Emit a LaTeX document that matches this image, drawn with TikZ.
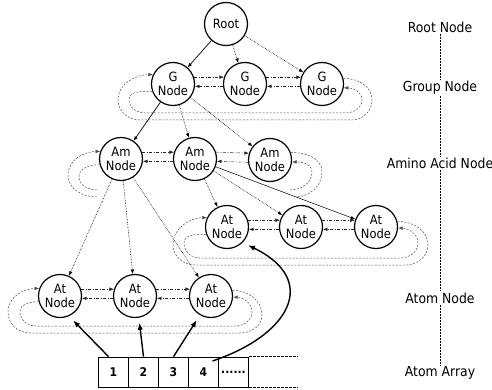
\documentclass[tikz,border=0pt]{standalone}
\usepackage{fontspec}
\setmainfont{DejaVu Sans}[FakeStretch=0.9]
\usetikzlibrary{arrows.meta}
\begin{document}
\begin{tikzpicture}[x=1pt,y=-1pt,
  nd/.style={circle,draw,line width=1.2pt,minimum size=43pt,inner sep=0pt,align=center,font=\fontsize{12.8}{13.5}\selectfont},
  tip/.style={-{Latex[length=4.5pt,width=3.5pt]}},
  tree/.style={tip,line width=0.6pt,densely dotted},
  treesolid/.style={tip,line width=0.7pt},
  sib/.style={tip,line width=0.45pt,black!85,dash pattern=on 3pt off 1.5pt on 1pt off 1.5pt},
  loopl/.style={line width=0.5pt,black!70,dash pattern=on 2pt off 1.5pt},
  arr/.style={-{Latex[length=7pt,width=5.5pt]},line width=1.4pt},
  cell/.style={draw,line width=0.8pt,minimum width=30pt,minimum height=30pt,inner sep=0pt,font=\bfseries\fontsize{12}{12}\selectfont},
  lab/.style={font=\fontsize{13.8}{14}\selectfont,inner sep=1pt},
  vline/.style={line width=0.9pt,dash pattern=on 2pt off 1pt}
]
\useasboundingbox (0,0) rectangle (492,390);

% nodes
\node[nd] (root) at (226,24) {Root};
\node[nd] (g1) at (173,84) {G\\Node};
\node[nd] (g2) at (245,84) {G\\Node};
\node[nd] (g3) at (322,84) {G\\Node};
\node[nd] (am1) at (121,159) {Am\\Node};
\node[nd] (am2) at (195,159) {Am\\Node};
\node[nd] (am3) at (270,160) {Am\\Node};
\node[nd] (at1) at (227,227) {At\\Node};
\node[nd] (at2) at (301,227) {At\\Node};
\node[nd] (at3) at (376,227) {At\\Node};
\node[nd] (at4) at (60,296) {At\\Node};
\node[nd] (at5) at (135,296) {At\\Node};
\node[nd] (at6) at (211,296) {At\\Node};

% tree edges
\draw[treesolid] (root) -- (g1);
\draw[tree] (root) -- (g2);
\draw[tree] (root) -- (g3);
\draw[treesolid] (g1) -- (am1);
\draw[tree] (g1) -- (am2);
\draw[tree] (g1) -- (am3);
\draw[tree] (am1) -- (at4);
\draw[tree] (am1) -- (at5);
\draw[tree] (am1) -- (at6);
\draw[tree] (am2) -- (at1);
\draw[tree] (am2) -- (at2);
\draw[tip,line width=0.5pt] (am2) -- (at3);

% sibling links
\foreach \a/\b in {g1/g2,g2/g3,am1/am2,am2/am3,at1/at2,at2/at3,at4/at5,at5/at6}{
  \draw[sib] (\a.18) -- (\b.162);
  \draw[sib] (\b.186) -- (\a.-6);
}

% G row loops
\draw[loopl,tip] (g3.15) to[out=0,in=90] (372,100) to[out=-90,in=0] (352,120) -- (140,120) to[out=180,in=-90] (118,100) to[out=90,in=180] (g1.155);
\draw[loopl,tip] (g1.200) to[out=180,in=90] (129,100) to[out=-90,in=180] (146,113) -- (345,113) to[out=0,in=-90] (362,100) to[out=90,in=0] (g3.-10);

% Am row loops (broken)
\draw[loopl,tip] (97,197) to[out=180,in=-90] (68,175) to[out=90,in=180] (am1.160);
\draw[loopl] (am1.195) to[out=180,in=90] (79,177) to[out=-90,in=180] (98,190);
\draw[loopl,tip] (290,190) to[out=0,in=-90] (312,172) to[out=90,in=0] (am3.-5);
\draw[loopl] (am3.20) to[out=0,in=90] (322,172) to[out=-90,in=0] (295,197);

% At row 1 loops
\draw[loopl,tip] (at3.15) to[out=0,in=90] (428,245) to[out=-90,in=0] (405,265) -- (195,265) to[out=180,in=-90] (173,245) to[out=90,in=180] (at1.155);
\draw[loopl,tip] (at1.200) to[out=180,in=90] (184,243) to[out=-90,in=180] (200,258) -- (400,258) to[out=0,in=-90] (418,243) to[out=90,in=0] (at3.-3);

% At row 2 loops
\draw[loopl,tip] (at6.15) to[out=0,in=90] (262,315) to[out=-90,in=0] (240,333) -- (30,333) to[out=180,in=-90] (8,312) to[out=90,in=180] (at4.160);
\draw[loopl,tip] (at4.195) to[out=180,in=90] (20,312) to[out=-90,in=180] (36,326) -- (235,326) to[out=0,in=-90] (252,312) to[out=90,in=0] (at6.-3);

% atom array
\node[cell] (c1) at (113.5,372) {1};
\node[cell] (c2) at (143.5,372) {2};
\node[cell] (c3) at (173.5,372) {3};
\node[cell] (c4) at (203.5,372) {4};
\node[cell] (c5) at (233.5,372) {......};
\draw[line width=0.8pt,dash pattern=on 3pt off 1pt] (c5.north east) -- ++(49,0);
\draw[line width=0.8pt,dash pattern=on 3pt off 1pt] (c5.south east) -- ++(49,0);

\draw[arr,shorten >=6pt] ([xshift=-5pt]c1.north) -- (at4.-66);
\draw[arr,shorten >=5pt] (c2.north) -- (at5.-80);
\draw[arr,shorten >=6pt] (c3.north) -- (at6.-120);
\draw[arr,shorten >=6pt] ([xshift=9pt,yshift=11pt]c4.center) .. controls (290,335) and (320,280) .. (at1.-45);

% level labels
\node[lab] (l1) at (440,27) {Root Node};
\node[lab] (l2) at (440,88) {Group Node};
\node[lab] (l3) at (440,163) {Amino Acid Node};
\node[lab] (l4) at (440,298) {Atom Node};
\node[lab] (l5) at (440,373) {Atom Array};
\draw[vline] (l1.south) -- (l2.north);
\draw[vline] (l2.south) -- (l3.north);
\draw[vline] (l3.south) -- (l4.north);
\draw[vline] (l4.south) -- (l5.north);
\end{tikzpicture}
\end{document}
